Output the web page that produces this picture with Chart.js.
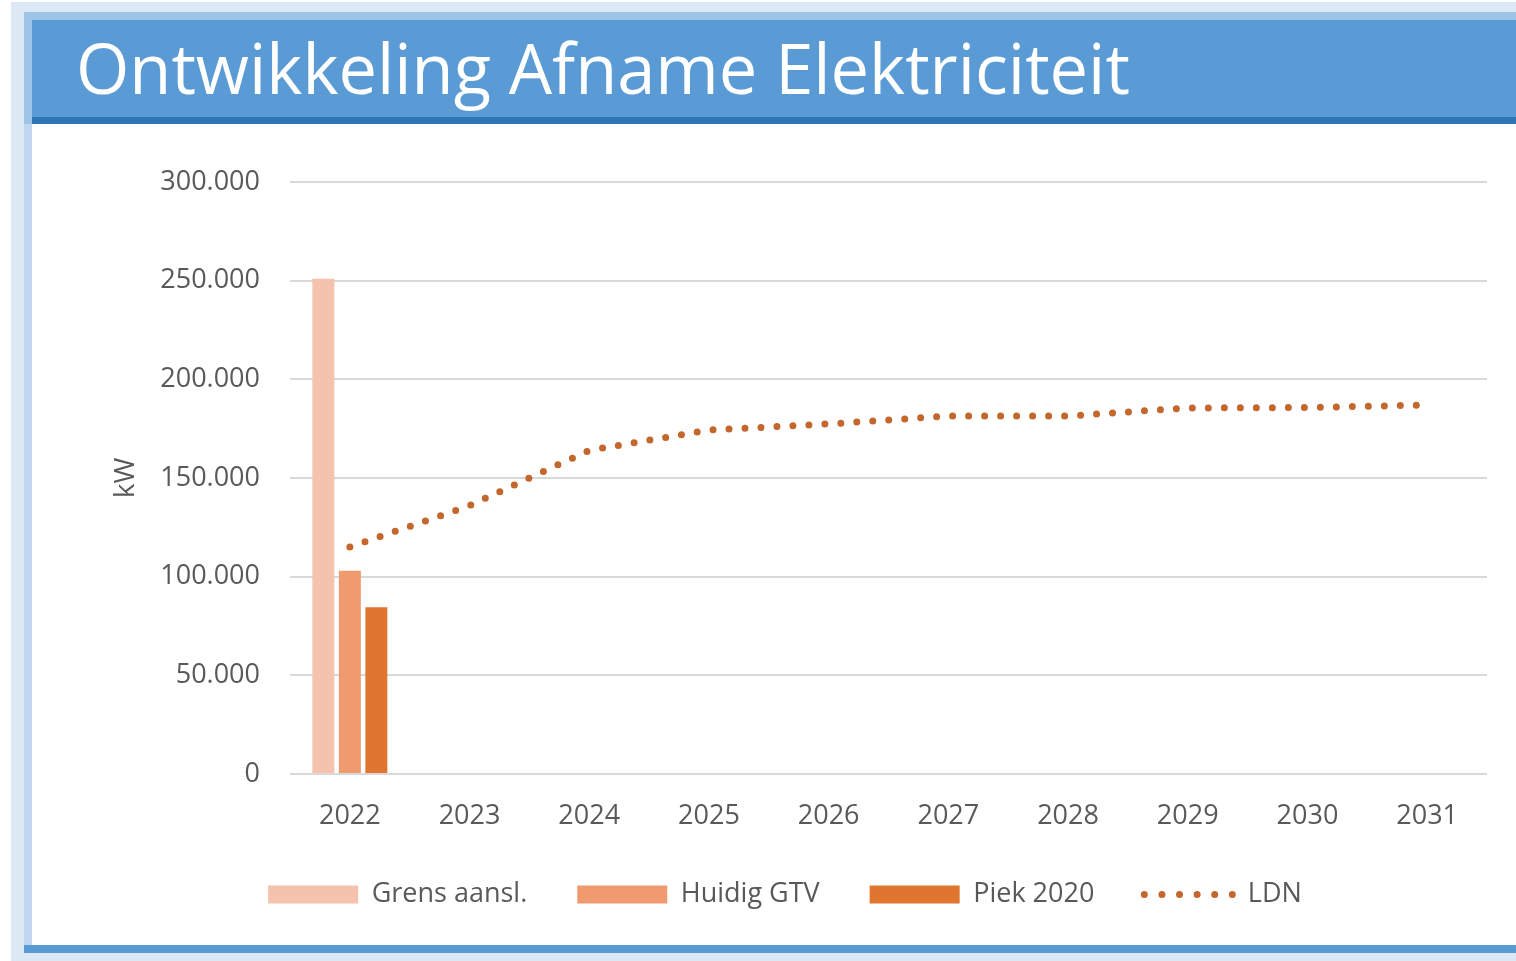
<!DOCTYPE html>
<html><head><meta charset="utf-8">
<script src="https://cdn.jsdelivr.net/npm/chart.js@4.4.1/dist/chart.umd.min.js"></script>
<style>
html,body{margin:0;padding:0;background:#fff;width:1516px;height:961px;overflow:hidden;font-family:"Open Sans",sans-serif}
#outer{position:absolute;left:11px;top:2px;width:1505px;height:959px;background:#dce9f5}
#topband{position:absolute;left:24px;top:12px;width:1492px;height:8px;background:#9dc3e6}
#leftcol1{position:absolute;left:24px;top:20px;width:8px;height:104px;background:#9dc3e6}
#leftcol2{position:absolute;left:24px;top:124px;width:8px;height:821px;background:#c0d8ef}
#titlebar{position:absolute;left:32px;top:20px;width:1484px;height:97px;background:#5b9bd5}
#titleline{position:absolute;left:32px;top:117px;width:1484px;height:7px;background:#2e75b6}
#content{position:absolute;left:32px;top:124px;width:1484px;height:821px;background:#fff}
#bottomline{position:absolute;left:24px;top:945px;width:1492px;height:8px;background:#5b9bd5}
h1{position:absolute;left:76px;top:21px;margin:0;font-weight:400;font-size:68.6px;color:#fff;line-height:normal;white-space:nowrap;font-family:"Open Sans",sans-serif}
</style>
</head>
<body>
<div id="outer"></div>
<div id="topband"></div>
<div id="leftcol1"></div>
<div id="leftcol2"></div>
<div id="titlebar"></div>
<div id="titleline"></div>
<h1>Ontwikkeling Afname Elektriciteit</h1>
<div id="content"><canvas id="c" width="1484" height="821"></canvas></div>
<div id="bottomline"></div>
<script>
// ---- data ----
const years = ['2022','2023','2024','2025','2026','2027','2028','2029','2030','2031'];
const grensAansl = [251000, null, null, null, null, null, null, null, null, null];
const huidigGTV  = [103000, null, null, null, null, null, null, null, null, null];
const piek2020   = [84500, null, null, null, null, null, null, null, null, null];
const ldn        = [115000, 136000, 164000, 174300, 177400, 181400, 181400, 185500, 185700, 187000];
const yTicks = [0, 50000, 100000, 150000, 200000, 250000, 300000];

const seriesNames = ['Grens aansl.', 'Huidig GTV', 'Piek 2020', 'LDN'];
const barColors = ['#F5C2AE', '#F09A70', '#DF752E'];
const lineColor = '#C4672D';

function fmt(v){ return String(v).replace(/\B(?=(\d{3})+(?!\d))/g, '.'); }

const FONT = {family: '"Open Sans", sans-serif', size: 27};

new Chart(document.getElementById('c'), {
  type: 'bar',
  data: {
    labels: years,
    datasets: [
      {label: seriesNames[0], data: grensAansl, backgroundColor: barColors[0], categoryPercentage: 0.664, barPercentage: 0.83},
      {label: seriesNames[1], data: huidigGTV, backgroundColor: barColors[1], categoryPercentage: 0.664, barPercentage: 0.83},
      {label: seriesNames[2], data: piek2020, backgroundColor: barColors[2], categoryPercentage: 0.664, barPercentage: 0.83},
      {type: 'line', label: seriesNames[3], data: ldn, borderColor: lineColor, backgroundColor: lineColor,
       borderWidth: 7, borderCapStyle: 'round', borderDash: [0, 16], pointRadius: 0, fill: false, tension: 0}
    ]
  },
  options: {
    responsive: false,
    animation: false,
    devicePixelRatio: 1,
    layout: {padding: {left: 51, right: 29, top: 58, bottom: 27}},
    plugins: {
      tooltip: {enabled: false},
      title: {display: false},
      legend: {
        position: 'bottom',
        labels: {
          font: FONT, color: '#595959',
          usePointStyle: true, pointStyleWidth: 90, boxHeight: 18, padding: 50,
          generateLabels(chart) {
            const items = Chart.defaults.plugins.legend.labels.generateLabels(chart);
            items.forEach(it => {
              const ds = chart.data.datasets[it.datasetIndex];
              if (ds.type === 'line') {
                it.pointStyle = 'line'; it.lineWidth = 7; it.lineCap = 'round';
                it.lineDash = [0, 17.6]; it.strokeStyle = ds.borderColor; it.fillStyle = ds.borderColor;
              } else {
                it.pointStyle = 'rect'; it.lineWidth = 0; it.fillStyle = ds.backgroundColor;
              }
              it.fontColor = '#595959';
            });
            return items;
          }
        }
      }
    },
    scales: {
      x: {
        grid: {display: false, drawTicks: false},
        border: {display: false},
        ticks: {font: FONT, color: '#595959', padding: 26, maxRotation: 0},
        afterFit(s){ s.height = 57; }
      },
      y: {
        min: 0, max: 300000,
        afterBuildTicks(s){ s.ticks = yTicks.map(v => ({value: v})); },
        grid: {color: '#d9d9d9', lineWidth: 2, drawTicks: false},
        border: {display: false},
        ticks: {font: FONT, color: '#595959', padding: 30, callback: v => fmt(v)},
        title: {display: true, text: 'kW', font: {family: '"Open Sans", sans-serif', size: 28}, color: '#595959', padding: {top: 26, bottom: 0}},
        afterFit(s){ s.width = 207; }
      }
    }
  }
});
</script>
</body></html>
